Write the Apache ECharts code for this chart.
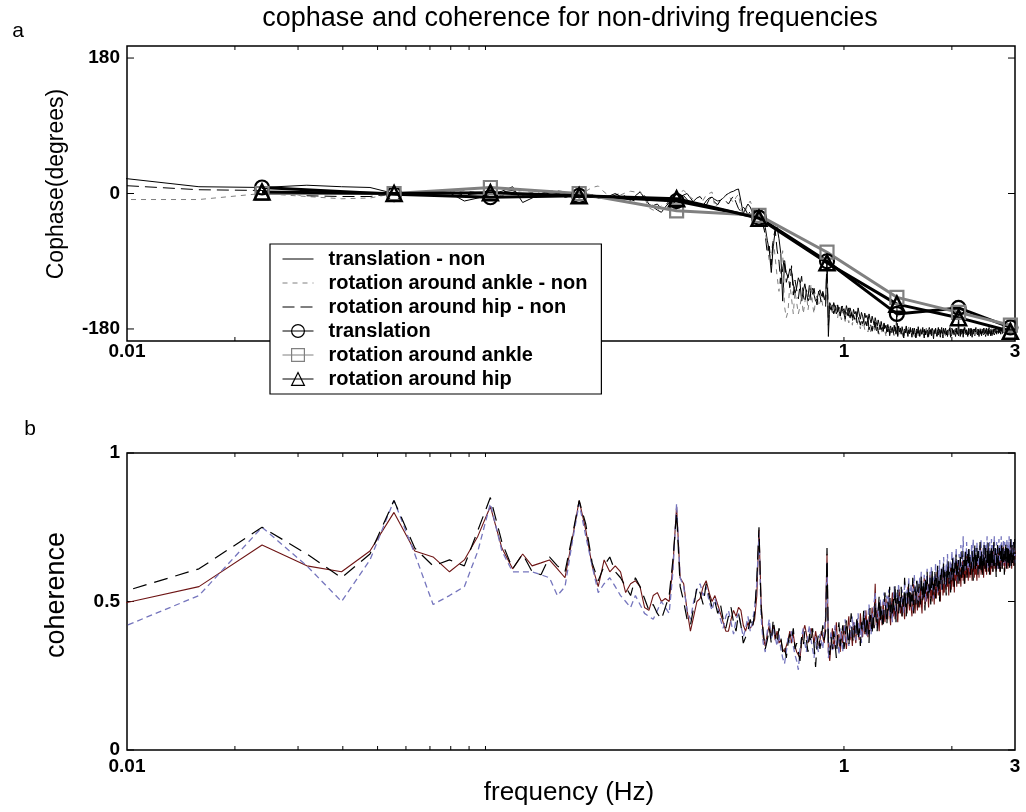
<!DOCTYPE html>
<html><head><meta charset="utf-8">
<script src="https://cdn.jsdelivr.net/npm/echarts@6/dist/echarts.min.js"></script>
<style>html,body{margin:0;padding:0;background:#fff}#c{width:1026px;height:812px}</style>
</head><body><div id="c"></div>
<script>
// frequency resolution of the spectra (bins k = 1..378)
const df = 1 / 126;

// ---- panel a: cophase (degrees) for non-driving frequencies ----
const transNon = [
25, 9, 8, 11, 9, 8, 0, 0, 3, 1,
-10, -6, -1, 3, 9, -12, -6, 0, 2, 0,
-5, -3, -6, -4, -2, -6, -5, -3, 0, -4,
-7, -9, -3, 2, -6, -14, -18, -22, -25, -18,
-12, -10, -8, -4, -2, 0, -6, -12, -16, -13,
-16, -10, -6, -5, -8, -10, -9, -6, -2, 0,
2, 3, 5, 6, -10, -27, -20, -14, -18, -25,
-22, -28, -33, -36, -40, -45, -62, -76, -105, -70,
-50, -45, -60, -80, -143, -93, -105, -112, -100, -103,
-120, -133, -125, -112, -118, -143, -130, -120, -132, -143,
-138, -130, -126, -135, -143, -140, -132, -128, -136, -130,
-138, -142, -88, -190, -145, -150, -158, -145, -152, -160,
-148, -155, -162, -150, -157, -153, -161, -149, -156, -163,
-152, -158, -165, -154, -160, -157, -164, -152, -160, -167,
-158, -163, -170, -159, -165, -162, -170, -160, -167, -172,
-163, -169, -175, -165, -171, -176, -168, -174, -180, -170,
-177, -183, -172, -179, -175, -182, -174, -180, -186, -176,
-183, -178, -185, -175, -181, -187, -178, -190, -176, -184,
-179, -186, -177, -183, -189, -180, -185, -176, -183, -190,
-181, -186, -178, -184, -191, -182, -187, -179, -185, -192,
-180, -186, -177, -184, -190, -181, -187, -183, -178, -186,
-192, -182, -188, -179, -185, -191, -183, -178, -187, -182,
-189, -180, -186, -193, -181, -186, -179, -185, -190, -182,
-188, -180, -185, -191, -183, -178, -186, -192, -181, -187,
-183, -179, -188, -184, -190, -182, -187, -180, -185, -191,
-183, -179, -186, -182, -188, -181, -186, -190, -183, -179,
-187, -184, -189, -181, -185, -190, -182, -187, -180, -185,
-191, -183, -178, -186, -182, -188, -181, -185, -190, -183,
-179, -186, -183, -189, -180, -185, -191, -182, -187, -180,
-184, -189, -182, -178, -186, -183, -188, -180, -185, -190,
-182, -187, -181, -184, -189, -180, -186, -182, -188, -183,
-179, -185, -190, -182, -187, -181, -185, -189, -182, -178,
-186, -183, -188, -180, -184, -189, -182, -186, -180, -184,
-188, -181, -185, -179, -183, -187, -181, -184, -178, -186,
-182, -185, -180, -183, -187, -180, -184, -179, -186, -182,
-178, -185, -181, -184, -179, -183, -187, -180, -182, -178,
-185, -181, -184, -179, -182, -186, -180, -183, -178, -182,
-185, -180, -183, -179, -181, -184, -180, -182
];
const ankleNon = [
-8, -8, 0, -4, -7, -6, 0, -2, 2, 1,
4, 1, 0, -3, 2, 4, 1, 4, 3, 4,
2, -2, -3, 3, 8, 10, 2, -4, -3, -2,
1, 3, 2, 3, -6, -19, -22, -23, -16, -10,
-6, -4, -12, 2, 4, 0, -5, -8, -12, -16,
-9, -2, 0, 2, -18, -14, -10, -6, -3, -2,
-8, -12, -5, -1, -20, -28, -22, -15, -10, -18,
-26, -30, -33, -38, -44, -50, -70, -90, -80, -60,
-85, -110, -130, -100, -76, -150, -165, -156, -120, -140,
-160, -130, -145, -160, -150, -135, -160, -145, -130, -155,
-140, -120, -148, -160, -140, -135, -150, -145, -138, -150,
-152, -148, -80, -170, -155, -148, -158, -150, -162, -155,
-165, -152, -160, -168, -156, -163, -170, -158, -166, -172,
-161, -168, -175, -163, -171, -166, -176, -169, -174, -180,
-170, -177, -173, -181, -172, -178, -184, -175, -180, -186,
-176, -182, -178, -185, -174, -181, -187, -177, -183, -179,
-186, -180, -176, -184, -189, -179, -185, -181, -177, -186,
-182, -188, -179, -184, -180, -187, -160, -183, -189, -180,
-185, -178, -184, -190, -181, -186, -179, -183, -188, -182,
-177, -185, -181, -187, -183, -179, -186, -190, -182, -185,
-180, -184, -189, -181, -186, -178, -183, -188, -182, -185,
-190, -181, -185, -179, -184, -188, -182, -186, -180, -183,
-187, -181, -185, -190, -183, -179, -186, -182, -188, -184,
-180, -185, -189, -182, -186, -181, -184, -188, -183, -179,
-185, -190, -182, -186, -180, -184, -189, -183, -187, -181,
-185, -179, -184, -188, -182, -186, -180, -183, -187, -182,
-178, -185, -158, -189, -183, -180, -186, -182, -185, -189,
-181, -184, -179, -186, -182, -188, -183, -180, -185, -181,
-187, -182, -184, -179, -186, -183, -188, -181, -185, -180,
-184, -189, -182, -186, -180, -183, -187, -181, -185, -182,
-179, -186, -183, -188, -180, -184, -181, -187, -182, -185,
-179, -183, -188, -181, -185, -180, -184, -182, -187, -180,
-183, -186, -181, -185, -179, -182, -187, -180, -184, -181,
-186, -182, -179, -184, -181, -185, -180, -183, -178, -182,
-185, -180, -183, -179, -184, -181, -178, -183, -180, -185,
-179, -182, -180, -184, -178, -181, -183, -179, -182, -180,
-177, -181, -184, -179, -176, -182, -178, -180, -183, -177,
-180, -178, -182, -176, -180, -177, -179, -176
];
const hipNon = [
13, 5, 4, -3, -4, -4, 0, -1, 0, 2,
-2, 0, 1, 2, 4, -2, 0, 3, -1, 1,
-4, -6, -5, -4, -2, -5, -3, -6, -2, 0,
-4, -8, -10, -6, -3, -12, -16, -14, -20, -16,
-10, -13, -10, -6, -3, -8, -14, -10, -6, -4,
-10, -16, -8, -4, -12, -15, -9, -6, -10, -14,
-8, -3, -12, -20, -24, -18, -22, -28, -24, -20,
-30, -27, -32, -38, -42, -55, -80, -70, -95, -60,
-48, -75, -90, -120, -100, -85, -118, -108, -125, -96,
-135, -115, -128, -140, -122, -110, -135, -145, -128, -138,
-120, -142, -132, -126, -140, -148, -130, -136, -145, -132,
-140, -150, -90, -175, -150, -155, -148, -160, -153, -146,
-158, -151, -163, -155, -149, -160, -167, -156, -162, -152,
-165, -158, -170, -161, -167, -157, -172, -164, -169, -175,
-166, -173, -168, -178, -170, -176, -165, -181, -172, -177,
-183, -174, -179, -171, -185, -177, -182, -188, -175, -181,
-178, -185, -174, -182, -187, -179, -184, -176, -189, -181,
-186, -179, -183, -190, -177, -185, -150, -188, -181, -184,
-179, -187, -182, -186, -192, -180, -185, -178, -184, -189,
-182, -186, -180, -188, -183, -179, -187, -181, -185, -191,
-183, -178, -186, -182, -189, -180, -184, -187, -181, -185,
-179, -188, -183, -186, -180, -184, -190, -182, -187, -181,
-185, -179, -183, -188, -182, -186, -180, -185, -189, -183,
-178, -186, -182, -187, -181, -184, -190, -183, -179, -185,
-181, -187, -183, -188, -180, -184, -186, -182, -178, -185,
-189, -183, -180, -186, -182, -187, -181, -184, -179, -186,
-182, -188, -164, -185, -181, -186, -180, -183, -189, -182,
-186, -180, -184, -178, -185, -182, -187, -181, -183, -188,
-180, -185, -182, -186, -179, -184, -188, -181, -185, -183,
-187, -180, -184, -182, -186, -179, -183, -188, -181, -185,
-182, -178, -186, -183, -187, -180, -185, -182, -179, -184,
-188, -181, -185, -183, -179, -186, -182, -187, -180, -184,
-181, -185, -189, -182, -186, -180, -183, -187, -181, -184,
-180, -185, -182, -178, -186, -183, -181, -187, -182, -185,
-179, -184, -181, -186, -180, -183, -185, -179, -182, -186,
-181, -184, -178, -183, -186, -180, -182, -185, -179, -183,
-181, -185, -180, -183, -178, -184, -186, -181, -179, -183,
-180, -184, -182, -178, -183, -181, -185, -182
];

// ---- panel a: cophase at the driving frequencies ----
const driveFreq  = [0.0238, 0.0556, 0.1032, 0.1825, 0.3413, 0.5794, 0.8968, 1.4048, 2.0873, 2.9127];
const transDrive = [8, -1, -5, -3, -10, -32, -90, -160, -152, -178];
const ankleDrive = [0, 0, 8, 0, -23, -29, -78, -138, -158, -175];
const hipDrive   = [2, 0, 1, -3, -7, -33, -92, -147, -165, -183];

// ---- panel b: coherence ----
const cohTrans = [
.47, .55, .69, .62, .60, .67, .80, .67, .65, .60,
.64, .72, .82, .68, .61, .66, .62, .63, .64, .61,
.58, .71, .84, .74, .62, .55, .64, .60, .62, .60,
.53, .56, .57, .55, .48, .47, .52, .53, .50, .51,
.50, .62, .82, .58, .56, .47, .40, .45, .50, .51,
.55, .57, .53, .50, .52, .49, .46, .43, .40, .40,
.44, .47, .45, .48, .47, .42, .40, .43, .41, .42,
.44, .52, .74, .50, .38, .35, .39, .42, .38, .42,
.37, .40, .36, .37, .34, .33, .33, .37, .40, .36,
.39, .35, .33, .32, .31, .36, .40, .42, .39, .36,
.38, .41, .39, .36, .40, .37, .35, .37, .40, .38,
.36, .45, .66, .33, .30, .36, .41, .34, .38, .43,
.35, .39, .33, .40, .36, .42, .38, .34, .41, .45,
.37, .40, .35, .43, .39, .36, .44, .40, .37, .46,
.41, .38, .44, .39, .47, .42, .38, .45, .40, .43,
.48, .41, .46, .56, .42, .47, .44, .40, .49, .45,
.42, .50, .46, .43, .51, .47, .44, .52, .46, .42,
.49, .53, .45, .48, .44, .51, .47, .43, .50, .54,
.46, .49, .45, .52, .48, .44, .53, .49, .46, .55,
.50, .47, .53, .48, .45, .52, .56, .49, .46, .53,
.50, .47, .55, .51, .48, .57, .50, .46, .54, .51,
.58, .49, .53, .50, .56, .52, .48, .55, .59, .51,
.54, .50, .57, .53, .49, .58, .54, .51, .60, .55,
.52, .57, .53, .50, .59, .55, .61, .52, .56, .53,
.60, .57, .54, .62, .55, .58, .52, .59, .56, .63,
.54, .58, .61, .55, .59, .53, .62, .57, .60, .55,
.64, .58, .61, .56, .63, .59, .55, .62, .58, .65,
.57, .60, .63, .56, .61, .58, .66, .59, .62, .57,
.64, .60, .58, .65, .59, .62, .57, .63, .60, .67,
.58, .62, .59, .64, .60, .57, .66, .61, .63, .58,
.65, .61, .68, .59, .63, .60, .66, .62, .58, .64,
.61, .67, .60, .63, .59, .65, .62, .68, .60, .64,
.61, .66, .59, .63, .67, .61, .64, .60, .69, .62,
.65, .61, .66, .63, .60, .67, .62, .65, .61, .68,
.63, .66, .60, .64, .69, .62, .66, .61, .65, .63,
.70, .62, .66, .60, .65, .68, .62, .66, .63, .69,
.61, .65, .67, .62, .66, .64, .70, .63, .67, .61,
.65, .68, .63, .66, .62, .69, .64, .67
];
const cohAnkle = [
.37, .52, .75, .62, .50, .64, .84, .66, .49, .52,
.55, .67, .83, .67, .60, .60, .60, .59, .58, .52,
.55, .70, .83, .72, .62, .53, .56, .58, .55, .52,
.50, .48, .52, .49, .46, .45, .44, .47, .50, .48,
.46, .60, .83, .58, .55, .47, .44, .50, .54, .56,
.52, .55, .50, .47, .51, .48, .44, .41, .45, .47,
.43, .39, .44, .46, .42, .38, .41, .45, .40, .43,
.48, .56, .73, .45, .36, .33, .40, .44, .37, .41,
.38, .35, .39, .34, .31, .29, .33, .38, .36, .40,
.35, .32, .30, .27, .34, .38, .41, .36, .33, .39,
.42, .37, .34, .31, .38, .35, .33, .39, .36, .34,
.41, .45, .63, .31, .35, .40, .33, .37, .42, .34,
.38, .32, .41, .37, .33, .39, .44, .36, .40, .35,
.42, .38, .45, .39, .43, .37, .41, .46, .38, .42,
.36, .44, .40, .47, .41, .38, .44, .49, .42, .39,
.46, .43, .50, .53, .45, .41, .48, .44, .51, .46,
.43, .49, .53, .47, .44, .52, .48, .54, .45, .50,
.47, .43, .51, .55, .48, .45, .53, .49, .56, .47,
.51, .48, .54, .50, .46, .57, .52, .48, .54, .50,
.58, .49, .53, .56, .50, .47, .55, .59, .51, .54,
.49, .57, .53, .50, .58, .54, .60, .51, .55, .52,
.59, .56, .50, .57, .61, .53, .56, .52, .60, .55,
.62, .54, .58, .51, .59, .56, .63, .55, .58, .53,
.61, .57, .64, .56, .60, .54, .62, .58, .65, .57,
.61, .55, .63, .59, .66, .58, .62, .56, .64, .60,
.57, .67, .61, .58, .65, .60, .63, .59, .68, .61,
.57, .64, .60, .66, .62, .59, .69, .63, .60, .65,
.72, .61, .64, .60, .67, .63, .70, .62, .65, .61,
.68, .64, .60, .66, .63, .69, .61, .65, .71, .62,
.66, .63, .68, .61, .65, .70, .63, .67, .60, .66,
.69, .62, .65, .71, .63, .66, .61, .68, .64, .70,
.62, .66, .69, .63, .67, .72, .64, .61, .68, .65,
.70, .63, .67, .64, .71, .62, .66, .69, .63, .67,
.72, .64, .68, .62, .66, .70, .64, .68, .61, .67,
.71, .65, .63, .69, .64, .72, .66, .62, .68, .65,
.71, .63, .67, .70, .64, .68, .62, .66, .71, .65,
.69, .63, .67, .72, .65, .62, .68, .66, .71, .64,
.69, .63, .67, .70, .65, .68, .63, .66
];
const cohHip = [
.50, .61, .75, .66, .58, .66, .84, .68, .62, .64,
.62, .74, .85, .70, .61, .66, .60, .59, .65, .62,
.60, .72, .84, .76, .63, .57, .62, .65, .60, .58,
.55, .52, .58, .55, .51, .47, .49, .46, .44, .48,
.52, .64, .80, .55, .50, .44, .42, .48, .55, .53,
.49, .56, .52, .48, .50, .46, .49, .44, .41, .45,
.48, .43, .40, .46, .42, .36, .38, .40, .44, .41,
.46, .58, .75, .48, .40, .34, .37, .41, .36, .44,
.39, .36, .41, .38, .33, .35, .31, .36, .39, .37,
.41, .34, .36, .33, .30, .38, .35, .40, .37, .33,
.39, .36, .41, .35, .28, .36, .39, .34, .38, .42,
.37, .40, .68, .35, .32, .38, .34, .40, .36, .31,
.39, .43, .35, .38, .42, .34, .37, .44, .39, .35,
.41, .46, .38, .36, .42, .39, .45, .37, .41, .35,
.43, .40, .47, .42, .38, .45, .41, .36, .48, .43,
.39, .46, .41, .50, .44, .40, .47, .52, .43, .49,
.45, .41, .48, .53, .46, .42, .50, .47, .55, .44,
.49, .46, .52, .47, .56, .43, .50, .54, .46, .51,
.48, .55, .45, .51, .47, .58, .50, .45, .53, .49,
.56, .52, .47, .54, .50, .58, .46, .52, .55, .49,
.57, .53, .48, .56, .52, .49, .59, .54, .50, .57,
.53, .47, .58, .54, .60, .51, .56, .53, .58, .49,
.55, .61, .52, .57, .54, .60, .51, .58, .55, .62,
.53, .57, .50, .59, .56, .61, .54, .58, .63, .55,
.60, .57, .52, .61, .58, .64, .56, .60, .57, .53,
.62, .59, .65, .57, .61, .55, .63, .60, .66, .58,
.62, .56, .64, .60, .57, .65, .61, .58, .67, .62,
.59, .64, .56, .63, .68, .60, .64, .58, .66, .62,
.69, .61, .65, .59, .64, .61, .67, .62, .57, .65,
.63, .69, .60, .66, .62, .68, .64, .59, .67, .63,
.61, .70, .64, .60, .67, .63, .58, .66, .62, .69,
.64, .61, .68, .65, .60, .67, .63, .70, .62, .66,
.59, .68, .64, .61, .69, .63, .67, .60, .66, .70,
.62, .65, .68, .64, .58, .67, .63, .69, .62, .66,
.61, .68, .64, .60, .67, .63, .70, .61, .65, .68,
.62, .66, .59, .67, .63, .70, .64, .61, .68, .65,
.62, .69, .63, .66, .60, .68, .64, .71, .62, .66,
.69, .63, .67, .64, .70, .62, .71, .66
];

// ---- axis ticks / labels ----
const xLabelVals = [0.01, 1, 3];
const xLabelText = ['0.01', '1', '3'];
const xTickVals = [0.02, 0.03, 0.04, 0.05, 0.06, 0.07, 0.08, 0.09, 0.1, 1, 2];
const yTopVals = [-180, 0, 180];
const yBotVals = [0, 0.5, 1];
const yBotText = ['0', '0.5', '1'];

const legendNames = ['translation - non', 'rotation around ankle - non', 'rotation around hip - non',
                     'translation', 'rotation around ankle', 'rotation around hip'];

const FONT = '"Liberation Sans", Arial, Helvetica, sans-serif';
const G = [{left: 127, top: 46, width: 888, height: 295}, {left: 127, top: 453, width: 888, height: 297}];

const bins = (arr) => arr.map((v, i) => [(i + 1) * df, v]);
const pairs = (xs, ys) => xs.map((x, i) => [x, ys[i]]);

const chart = echarts.init(document.getElementById('c'), null, {renderer: 'canvas'});

const axisOff = {axisLine: {show: false}, axisTick: {show: false}, axisLabel: {show: false},
                 splitLine: {show: false}, minorTick: {show: false}, minorSplitLine: {show: false}};

const GRAY = '#808080';
const option = {
  animation: false,
  backgroundColor: '#fff',
  grid: G.map(g => Object.assign({show: true, borderColor: '#000', borderWidth: 1.5,
                                  backgroundColor: 'transparent', containLabel: false}, g)),
  xAxis: [0, 1].map(i => Object.assign({type: 'log', logBase: 10, gridIndex: i, min: 0.01, max: 3}, axisOff)),
  yAxis: [
    Object.assign({type: 'value', gridIndex: 0, min: -196, max: 196}, axisOff),
    Object.assign({type: 'value', gridIndex: 1, min: 0, max: 1}, axisOff)
  ],
  legend: {
    show: true, orient: 'vertical', left: 270, top: 244, z: 10,
    selectedMode: false,
    backgroundColor: '#fff', borderColor: '#000', borderWidth: 1.2, borderRadius: 0,
    padding: [5, 14, 5, 12], itemGap: 4, itemWidth: 31, itemHeight: 16,
    lineStyle: {width: 1},
    textStyle: {fontFamily: FONT, fontSize: 20, fontWeight: 'bold', color: '#000',
                lineHeight: 19, padding: [0, 0, 0, 10]},
    data: [
      {name: legendNames[0], itemStyle: {color: 'transparent', borderWidth: 0}},
      {name: legendNames[1], itemStyle: {color: 'transparent', borderWidth: 0}},
      {name: legendNames[2], itemStyle: {color: 'transparent', borderWidth: 0}},
      {name: legendNames[3], itemStyle: {color: 'transparent', borderColor: '#000', borderWidth: 1.2}},
      {name: legendNames[4], itemStyle: {color: 'transparent', borderColor: GRAY, borderWidth: 1.2}},
      {name: legendNames[5], itemStyle: {color: 'transparent', borderColor: '#000', borderWidth: 1.2}}
    ]
  },
  series: [
    {name: legendNames[0], type: 'line', xAxisIndex: 0, yAxisIndex: 0, data: bins(transNon),
     symbol: 'none', silent: true, itemStyle: {color: '#000'}, lineStyle: {color: '#000', width: 1}},
    {name: legendNames[1], type: 'line', xAxisIndex: 0, yAxisIndex: 0, data: bins(ankleNon),
     symbol: 'none', silent: true, itemStyle: {color: GRAY}, lineStyle: {color: GRAY, width: 1, type: [5, 5]}},
    {name: legendNames[2], type: 'line', xAxisIndex: 0, yAxisIndex: 0, data: bins(hipNon),
     symbol: 'none', silent: true, itemStyle: {color: '#000'}, lineStyle: {color: '#000', width: 1, type: [12, 6]}},
    {name: legendNames[3], type: 'line', xAxisIndex: 0, yAxisIndex: 0, data: pairs(driveFreq, transDrive),
     symbol: 'circle', symbolSize: 14, silent: true,
     itemStyle: {color: 'transparent', borderColor: '#000', borderWidth: 2.2}, lineStyle: {color: '#000', width: 3}},
    {name: legendNames[4], type: 'line', xAxisIndex: 0, yAxisIndex: 0, data: pairs(driveFreq, ankleDrive),
     symbol: 'rect', symbolSize: 13, silent: true,
     itemStyle: {color: 'transparent', borderColor: GRAY, borderWidth: 2.2}, lineStyle: {color: GRAY, width: 3}},
    {name: legendNames[5], type: 'line', xAxisIndex: 0, yAxisIndex: 0, data: pairs(driveFreq, hipDrive),
     symbol: 'triangle', symbolSize: 15, silent: true,
     itemStyle: {color: 'transparent', borderColor: '#000', borderWidth: 2.5}, lineStyle: {color: '#000', width: 3}},
    {name: 'coherence translation', type: 'line', xAxisIndex: 1, yAxisIndex: 1, data: bins(cohTrans),
     symbol: 'none', silent: true, lineStyle: {color: '#6e1515', width: 1.1}},
    {name: 'coherence ankle', type: 'line', xAxisIndex: 1, yAxisIndex: 1, data: bins(cohAnkle),
     symbol: 'none', silent: true, lineStyle: {color: '#7575bd', width: 1.3, type: [6, 4]}},
    {name: 'coherence hip', type: 'line', xAxisIndex: 1, yAxisIndex: 1, data: bins(cohHip),
     symbol: 'none', silent: true, lineStyle: {color: '#000', width: 1.2, type: [14, 8]}}
  ]
};
chart.setOption(option);

// ---- axis decorations (MATLAB style ticks inside the box, labels) ----
const els = [];
const tickStyle = {stroke: '#000', lineWidth: 1};
const lblStyle = (txt, x, y, align, vAlign) => ({type: 'text', z: 3, x: x, y: y,
  style: {text: txt, font: 'bold 19px ' + FONT, fill: '#000', align: align, verticalAlign: vAlign}});

[0, 1].forEach(gi => {
  const g = G[gi];
  const top = g.top, bot = g.top + g.height, left = g.left, right = g.left + g.width;
  xTickVals.forEach(f => {
    const x = chart.convertToPixel({xAxisIndex: gi}, f);
    els.push({type: 'line', z: 3, shape: {x1: x, y1: bot, x2: x, y2: bot - 4}, style: tickStyle});
    els.push({type: 'line', z: 3, shape: {x1: x, y1: top, x2: x, y2: top + 4}, style: tickStyle});
  });
  xLabelVals.forEach((f, i) => {
    const x = chart.convertToPixel({xAxisIndex: gi}, f);
    els.push(lblStyle(xLabelText[i], x, bot + (gi === 0 ? 11 : 17), 'center', 'middle'));
  });
  const yv = gi === 0 ? yTopVals : yBotVals;
  yv.forEach((v, i) => {
    const y = chart.convertToPixel({yAxisIndex: gi}, v);
    els.push({type: 'line', z: 3, shape: {x1: left, y1: y, x2: left + 7, y2: y}, style: tickStyle});
    els.push({type: 'line', z: 3, shape: {x1: right, y1: y, x2: right - 7, y2: y}, style: tickStyle});
    const txt = gi === 0 ? String(v) : yBotText[i];
    els.push(lblStyle(txt, left - 7, y, 'right', 'middle'));
  });
});

const plainText = (txt, x, y, size, rot) => ({type: 'text', z: 3, x: x, y: y, rotation: rot || 0,
  style: {text: txt, font: size + 'px ' + FONT, fill: '#000', align: 'center', verticalAlign: 'middle'}});
els.push(plainText('cophase and coherence for non-driving frequencies', 570, 19, 27));
els.push(plainText('a', 18, 31, 21));
els.push(plainText('b', 30, 429, 21));
els.push(plainText('Cophase(degrees)', 57, 184, 23, Math.PI / 2));
els.push(plainText('coherence', 57, 595, 27, Math.PI / 2));
els.push(plainText('frequency (Hz)', 569, 793, 26));

chart.setOption({graphic: {elements: els}});
</script>
</body></html>
